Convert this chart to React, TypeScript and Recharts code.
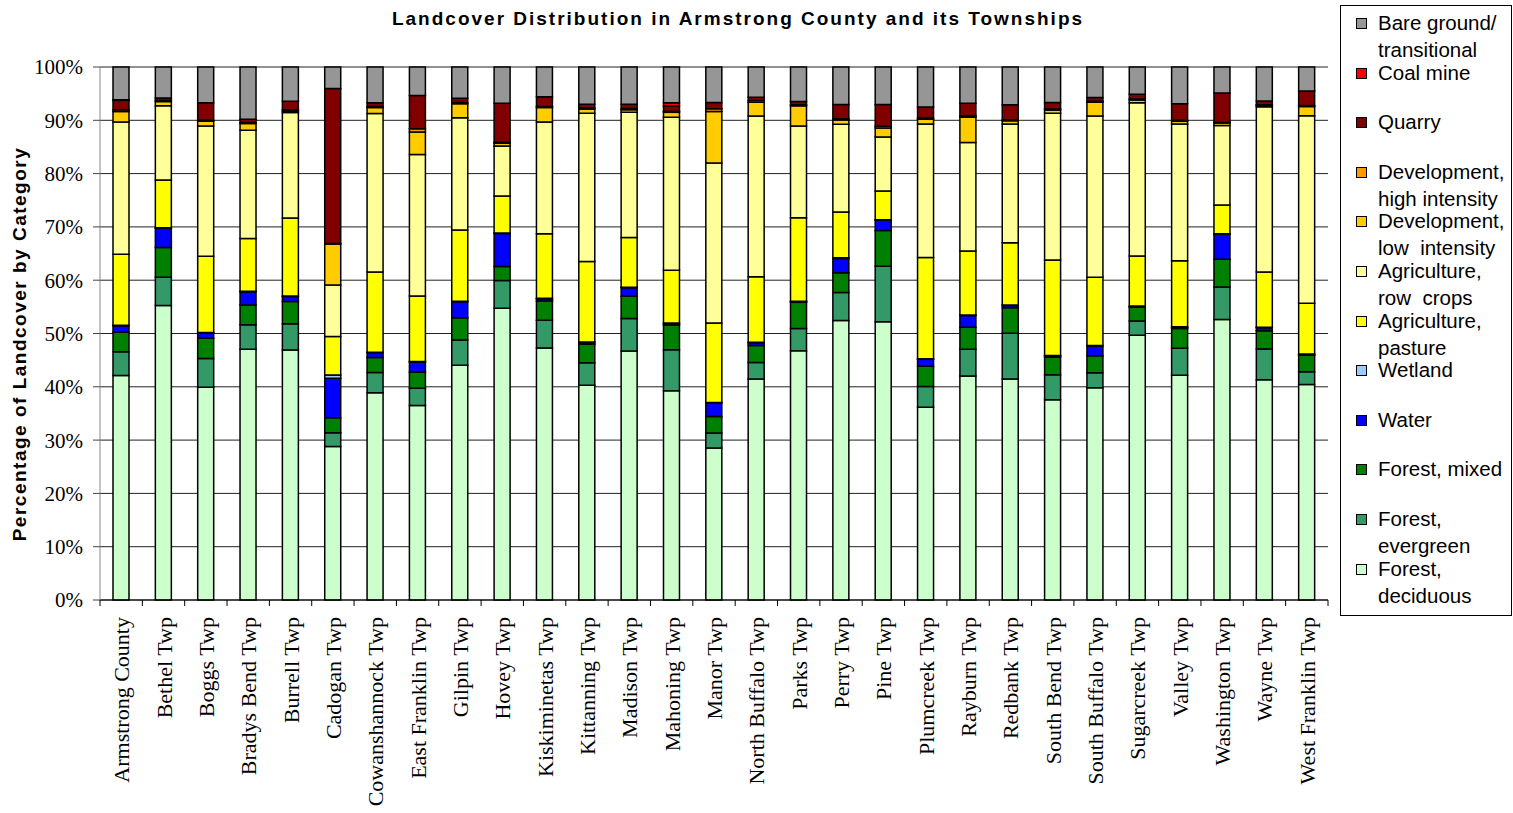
import React from "react";
import { BarChart, Bar, XAxis, YAxis, CartesianGrid } from "recharts";

// township names, left to right
const places = [
  "Armstrong County", "Bethel Twp", "Boggs Twp", "Bradys Bend Twp", "Burrell Twp",
  "Cadogan Twp", "Cowanshannock Twp", "East Franklin Twp", "Gilpin Twp", "Hovey Twp",
  "Kiskiminetas Twp", "Kittanning Twp", "Madison Twp", "Mahoning Twp", "Manor Twp",
  "North Buffalo Twp", "Parks Twp", "Perry Twp", "Pine Twp", "Plumcreek Twp",
  "Rayburn Twp", "Redbank Twp", "South Bend Twp", "South Buffalo Twp", "Sugarcreek Twp",
  "Valley Twp", "Washington Twp", "Wayne Twp", "West Franklin Twp",
];

// percent of area per category
const deciduous = [42.4, 55.3, 40.0, 47.1, 46.7, 28.7, 38.8, 36.2, 43.5, 54.7, 47.3, 40.3, 46.7, 39.2, 28.3, 41.5, 46.8, 52.3, 52.1, 36.2, 41.9, 41.5, 37.7, 39.8, 49.7, 42.2, 52.7, 41.5, 40.3];
const evergreen = [4.5, 5.3, 5.4, 4.6, 4.9, 2.6, 3.8, 3.2, 4.7, 5.2, 5.2, 4.2, 6.1, 7.7, 2.8, 3.1, 4.2, 5.2, 10.4, 3.9, 5.0, 8.6, 4.7, 2.8, 2.7, 5.1, 6.1, 5.8, 2.4];
const mixed = [3.7, 5.6, 3.8, 3.7, 4.2, 2.8, 2.8, 3.0, 4.1, 2.6, 3.6, 3.5, 4.2, 4.6, 3.1, 3.2, 4.9, 3.7, 6.7, 3.8, 4.1, 4.8, 3.3, 3.2, 2.6, 3.7, 5.2, 3.4, 3.1];
const water = [1.2, 3.6, 1.0, 2.5, 0.9, 7.4, 0.9, 1.9, 3.0, 6.2, 0.4, 0.3, 1.6, 0.3, 2.5, 0.5, 0.1, 2.7, 1.9, 1.3, 2.2, 0.4, 0.2, 1.8, 0.1, 0.2, 4.7, 0.6, 0.1];
const wetland = [0.1, 0.1, 0.1, 0.1, 0.1, 0.6, 0.1, 0.1, 0.1, 0.1, 0.1, 0.1, 0.1, 0.1, 0.1, 0.1, 0.1, 0.1, 0.1, 0.1, 0.1, 0.1, 0.1, 0.1, 0.1, 0.1, 0.1, 0.1, 0.1];
const pasture = [13.4, 9.0, 14.3, 9.9, 14.6, 7.2, 15.0, 12.2, 13.2, 6.9, 12.1, 15.1, 9.3, 9.9, 14.8, 12.3, 15.7, 8.6, 5.4, 19.0, 12.0, 11.7, 18.0, 12.8, 9.4, 12.4, 5.4, 10.4, 9.5];
const rowCrops = [25.0, 13.9, 24.5, 20.3, 19.7, 9.6, 29.7, 26.3, 20.8, 9.4, 21.0, 27.8, 23.5, 28.7, 29.8, 30.2, 17.2, 16.4, 10.1, 25.1, 20.3, 22.3, 27.6, 30.2, 28.8, 25.7, 14.9, 31.1, 35.1];
const devLow = [2.0, 0.8, 0.9, 1.3, 0.3, 7.7, 1.1, 4.2, 2.6, 0.5, 2.7, 0.8, 0.5, 0.9, 9.6, 2.6, 3.8, 0.8, 1.7, 0.9, 4.7, 0.6, 0.6, 2.6, 0.5, 0.5, 0.5, 0.3, 1.7];
const devHigh = [0.3, 0.2, 0.2, 0.2, 0.2, 0.1, 0.2, 0.6, 0.2, 0.2, 0.2, 0.2, 0.2, 0.2, 0.5, 0.3, 0.2, 0.2, 0.3, 0.2, 0.3, 0.2, 0.2, 0.2, 0.2, 0.2, 0.1, 0.1, 0.2];
const quarry = [1.8, 0.5, 3.3, 0.6, 1.6, 29.0, 0.7, 6.2, 0.8, 7.3, 1.8, 0.7, 0.8, 1.0, 1.2, 0.6, 0.6, 2.7, 4.1, 2.1, 2.3, 2.8, 1.2, 0.7, 0.9, 3.1, 5.5, 0.7, 2.7];
const coalMine = [0.1, 0, 0, 0, 0, 0, 0, 0, 0, 0, 0, 0, 0, 0.6, 0, 0, 0, 0, 0, 0, 0, 0, 0, 0, 0, 0, 0, 0, 0];
const bareGround = [6.2, 5.8, 6.7, 9.8, 6.4, 4.0, 6.7, 5.3, 5.8, 6.8, 5.6, 7.0, 7.0, 6.7, 6.6, 5.7, 6.5, 7.0, 7.0, 7.5, 6.8, 7.1, 6.7, 5.7, 5.1, 6.9, 4.9, 6.4, 4.5];

const yTicks = [0, 0.1, 0.2, 0.3, 0.4, 0.5, 0.6, 0.7, 0.8, 0.9, 1];

// bottom of the stack first
const series = [
  { key: "deciduous", name: "Forest,\ndeciduous", color: "#CCFFCC", values: deciduous },
  { key: "evergreen", name: "Forest,\nevergreen", color: "#339966", values: evergreen },
  { key: "mixed", name: "Forest, mixed", color: "#008000", values: mixed },
  { key: "water", name: "Water", color: "#0000FF", values: water },
  { key: "wetland", name: "Wetland", color: "#99CCFF", values: wetland },
  { key: "pasture", name: "Agriculture,\npasture", color: "#FFFF00", values: pasture },
  { key: "rowCrops", name: "Agriculture,\nrow  crops", color: "#FFFF99", values: rowCrops },
  { key: "devLow", name: "Development,\nlow  intensity", color: "#FFCC00", values: devLow },
  { key: "devHigh", name: "Development,\nhigh intensity", color: "#FF9900", values: devHigh },
  { key: "quarry", name: "Quarry", color: "#800000", values: quarry },
  { key: "coalMine", name: "Coal mine", color: "#FF0000", values: coalMine },
  { key: "bareGround", name: "Bare ground/\ntransitional", color: "#969696", values: bareGround },
];

const data = places.map((name, i) => {
  const row: Record<string, any> = { name };
  series.forEach((s) => (row[s.key] = s.values[i]));
  return row;
});

const CHART_W = 1340;
const CHART_H = 813;
const PLOT_LEFT = 100;
const PLOT_RIGHT = 1328;
const BAND = (PLOT_RIGHT - PLOT_LEFT) / places.length;

const serif = "'Liberation Serif', 'Times New Roman', serif";
const sans = "'Liberation Sans', Arial, sans-serif";

// category label, plus a tick mark at the band boundary
const XTick = (props: any) => {
  const { x, y, payload, index } = props;
  const left = x - BAND / 2;
  return (
    <g>
      <line x1={left} y1={y} x2={left} y2={y + 6} stroke="#000" />
      {index === places.length - 1 && (
        <line x1={x + BAND / 2} y1={y} x2={x + BAND / 2} y2={y + 6} stroke="#000" />
      )}
      <text
        transform={`translate(${x + 8},${y + 17}) rotate(-90)`}
        textAnchor="end"
        fontFamily={serif}
        fontSize={22}
        fill="#000"
      >
        {payload.value}
      </text>
    </g>
  );
};

const Legend = () => (
  <div
    style={{
      position: "absolute",
      left: 1340,
      top: 5,
      width: 172,
      height: 611,
      border: "1px solid #000",
      boxSizing: "border-box",
      fontFamily: sans,
      fontSize: 20.5,
    }}
  >
    {[...series].reverse().map((s, i) => {
      const lines = s.name.split("\n");
      return (
        <div key={s.key} style={{ position: "absolute", left: 0, top: 3 + i * 49.6 }}>
          <div
            style={{
              position: "absolute",
              left: 15,
              top: 9,
              width: 11,
              height: 11,
              background: s.color,
              border: "1px solid #000",
              boxSizing: "border-box",
            }}
          />
          {lines.map((l, j) => (
            <div
              key={j}
              style={{ position: "absolute", left: 37, top: j * 27, whiteSpace: "pre", lineHeight: "27px" }}
            >
              {l}
            </div>
          ))}
        </div>
      );
    })}
  </div>
);

export default function App() {
  return (
    <div style={{ position: "absolute", left: 0, top: 0, width: 1513, height: 813, background: "#fff" }}>
      <div
        style={{
          position: "absolute",
          left: 0,
          width: 1476,
          top: 8,
          textAlign: "center",
          fontFamily: sans,
          fontWeight: "bold",
          fontSize: 19,
          letterSpacing: 2,
        }}
      >
        Landcover Distribution in Armstrong County and its Townships
      </div>
      <div
        style={{
          position: "absolute",
          left: 20,
          top: 344,
          transform: "translate(-50%, -50%) rotate(-90deg)",
          whiteSpace: "nowrap",
          fontFamily: sans,
          fontWeight: "bold",
          fontSize: 19,
          letterSpacing: 1.5,
        }}
      >
        Percentage of Landcover by Category
      </div>
      <div style={{ position: "absolute", left: 0, top: 0 }}>
        <BarChart
          width={CHART_W}
          height={CHART_H}
          data={data}
          stackOffset="expand"
          barSize={16}
          margin={{ top: 67, right: CHART_W - PLOT_RIGHT, left: 0, bottom: 13 }}
        >
          <CartesianGrid vertical={false} stroke="#222" strokeWidth={1} />
          <XAxis
            dataKey="name"
            interval={0}
            height={200}
            tickLine={false}
            tickSize={0}
            tickMargin={0}
            axisLine={{ stroke: "#000" }}
            tick={<XTick />}
          />
          <YAxis
            width={PLOT_LEFT}
            domain={[0, 1]}
            ticks={yTicks}
            tickFormatter={(v: number) => `${Math.round(v * 100)}%`}
            axisLine={{ stroke: "#888" }}
            tickLine={{ stroke: "#444" }}
            tickSize={7}
            tickMargin={10}
            tick={{ fontFamily: serif, fontSize: 21, fill: "#000" }}
          />
          {series.map((s) => (
            <Bar
              key={s.key}
              dataKey={s.key}
              stackId="a"
              fill={s.color}
              stroke="#000"
              strokeWidth={1.5}
              isAnimationActive={false}
            />
          ))}
        </BarChart>
      </div>
      <Legend />
    </div>
  );
}
